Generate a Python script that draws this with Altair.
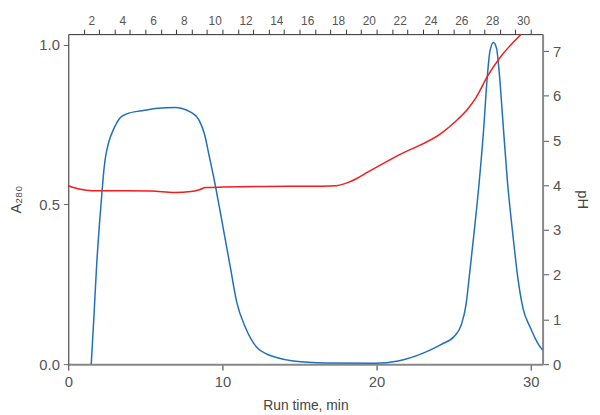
import altair as alt
import pandas as pd

# A280 trace (blue)
a_time = [1.49, 1.67, 1.84, 2.03, 2.2, 2.31, 2.42, 2.63, 2.95, 3.38, 3.8, 4.76, 5.83, 6.9, 7.97,
          8.5, 8.83, 9.15, 9.47, 9.79, 10.1, 10.53, 10.92, 11.5, 12.24, 12.9, 13.5, 14.6, 16.7,
          19.9, 21.4, 23.1, 24.2, 25.06, 25.5, 25.8, 26.0, 26.35, 26.67, 26.94, 27.16, 27.35,
          27.58, 27.78, 27.95, 28.16, 28.48, 28.85, 29.17, 29.5, 29.98, 30.5, 30.77]
a_value = [0.0, 0.155, 0.31, 0.444, 0.547, 0.608, 0.65, 0.696, 0.737, 0.773, 0.784, 0.794, 0.802,
           0.804, 0.789, 0.763, 0.722, 0.65, 0.577, 0.495, 0.413, 0.299, 0.196, 0.114, 0.052,
           0.031, 0.021, 0.01, 0.004, 0.003, 0.01, 0.036, 0.062, 0.088, 0.124, 0.186, 0.268,
           0.423, 0.577, 0.732, 0.887, 0.979, 1.008, 0.99, 0.918, 0.784, 0.577, 0.402, 0.268,
           0.175, 0.114, 0.062, 0.044]

# pH trace (red)
ph_time = [0.0, 0.7, 1.56, 3.7, 5.4, 6.9, 7.97, 8.5, 8.93, 10.1, 14.4, 16.5, 17.37, 18.2, 18.65,
           19.3, 21.4, 24.3, 25.06, 25.9, 26.45, 27.2, 28.06, 28.9, 29.38]
ph_value = [3.99, 3.915, 3.878, 3.878, 3.87, 3.84, 3.86, 3.9, 3.95, 3.96, 3.98, 3.98, 3.99, 4.07,
            4.14, 4.27, 4.67, 5.19, 5.41, 5.70, 5.96, 6.44, 6.88, 7.21, 7.38]

# fractions (top axis): boundaries at each minute, even fractions labelled at centres
fraction_bounds = list(range(1, 31))
fraction_centres = [n - 0.5 for n in range(2, 31, 2)]

BLUE = "#1f6fbd"
RED = "#f21c1c"
FONT = "Liberation Sans"

blue_df = pd.DataFrame({"t": a_time, "A": a_value})
red_df = pd.DataFrame({"t": ph_time, "pH": ph_value})

xscale = alt.Scale(domain=[0, 30.77], nice=False, zero=False)

bottom_axis = alt.Axis(orient="bottom", values=[0, 10, 20, 30], title="Run time, min",
                       grid=False, tickSize=6, tickColor="#333", domainColor="#888",
                       domainWidth=2, labelFlush=False, labelFont=FONT, labelFontSize=15,
                       labelColor="#555", labelPadding=5, titleFont=FONT, titleFontSize=14,
                       titleFontWeight="normal", titleColor="#444", titlePadding=9)
left_axis = alt.Axis(orient="left", values=[0, 0.5, 1.0], format=".1f", title="A₂₈₀",
                     grid=False, tickSize=5, tickColor="#666", domainColor="#333",
                     labelFont=FONT, labelFontSize=15, labelColor="#555", labelPadding=4,
                     titleFont=FONT, titleFontSize=15, titleFontWeight="normal",
                     titleColor="#444", titlePadding=15)
top_axis = alt.Axis(orient="top", values=fraction_bounds + fraction_centres, title=None,
                    grid=False, tickSize=5, tickColor="#333", domainColor="#333",
                    tickOpacity={"condition": {"test": "datum.value % 1 == 0", "value": 1}, "value": 0},
                    labelExpr="datum.value % 1 != 0 ? format(datum.value + 0.5, 'd') : ''",
                    labelOverlap=False, labelFlush=False, labelFont=FONT, labelFontSize=12,
                    labelColor="#555", labelPadding=2)
right_axis = alt.Axis(orient="right", values=list(range(0, 8)), title="pH", grid=False,
                      tickSize=6, tickColor="#555", domainColor="#888", domainWidth=2,
                      labelFont=FONT, labelFontSize=15, labelColor="#555", labelPadding=4,
                      titleFont=FONT, titleFontSize=15, titleFontWeight="normal",
                      titleColor="#444", titlePadding=14)

blue = alt.Chart(blue_df).mark_line(color=BLUE, strokeWidth=1.5, interpolate="monotone").encode(
    x=alt.X("t:Q", scale=xscale, axis=bottom_axis),
    y=alt.Y("A:Q", scale=alt.Scale(domain=[0, 1.034], nice=False), axis=left_axis),
    order="t:Q",
)
red = alt.Chart(red_df).mark_line(color=RED, strokeWidth=1.5, interpolate="monotone").encode(
    x=alt.X("t:Q", scale=xscale, axis=top_axis),
    y=alt.Y("pH:Q", scale=alt.Scale(domain=[0, 7.38], nice=False), axis=right_axis),
    order="t:Q",
)

chart = alt.layer(blue, red).resolve_scale(x="independent", y="independent").properties(
    width=480, height=334,
    autosize=alt.AutoSizeParams(type="none"),
    padding={"left": 61, "top": 24, "right": 50, "bottom": 48},
).configure_view(stroke=None).configure(background="white")

chart.save("out.html", embed_options={"renderer": "svg", "actions": False})
